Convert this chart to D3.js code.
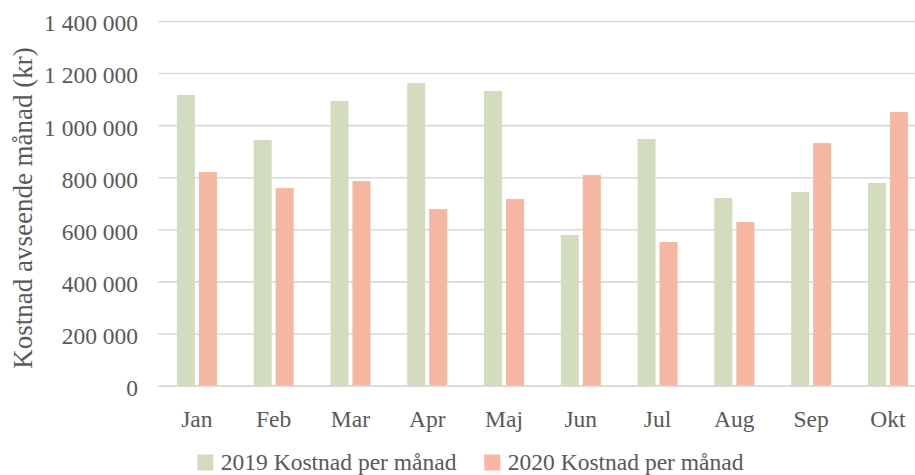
<!DOCTYPE html>
<html>
<head>
<meta charset="utf-8">
<script src="https://cdn.jsdelivr.net/npm/d3@7"></script>
<style>
  html, body { margin: 0; padding: 0; background: #fff; }
  svg { display: block; }
  text { font-family: "Liberation Serif", "Times New Roman", serif; fill: #595959; }
</style>
</head>
<body>
<svg id="chart" width="915" height="475"></svg>
<script>
const months = ["Jan", "Feb", "Mar", "Apr", "Maj", "Jun", "Jul", "Aug", "Sep", "Okt"];
const seriesNames = ["2019 Kostnad per månad", "2020 Kostnad per månad"];
const values2019 = [1118000, 945000, 1095000, 1164000, 1133000, 580000, 949000, 722000, 745000, 780000];
const values2020 = [822000, 760000, 787000, 680000, 718000, 810000, 553000, 630000, 933000, 1052000];
const yTicks = [0, 200000, 400000, 600000, 800000, 1000000, 1200000, 1400000];
const colors = ["#d3dcbe", "#f5b6a2"];
const yTitle = "Kostnad avseende månad (kr)";

const svg = d3.select("#chart");
const W = 915;
const plot = { left: 158.5, right: 926.3, top: 21.5, bottom: 386 };

const locale = d3.formatLocale({ decimal: ",", thousands: " ", grouping: [3], currency: ["", " kr"] });
const fmt = locale.format(",d");

const x0 = d3.scaleBand().domain(months).range([plot.left, plot.right])
  .paddingInner(0.479).paddingOuter(0.2395);
const x1 = d3.scaleBand().domain([0, 1]).range([0, x0.bandwidth()])
  .paddingInner(0.1818).paddingOuter(0);
const y = d3.scaleLinear().domain([0, 1400000]).range([plot.bottom, plot.top]);

// gridlines
svg.append("g").selectAll("line").data(yTicks).join("line")
  .attr("x1", plot.left).attr("x2", W)
  .attr("y1", d => y(d)).attr("y2", d => y(d))
  .attr("stroke", "#d9d9d9").attr("stroke-width", 1.6);

// y tick labels
svg.append("g").selectAll("text").data(yTicks).join("text")
  .attr("x", 138).attr("y", d => y(d)).attr("dy", "0.42em")
  .attr("text-anchor", "end").attr("font-size", "23.5px")
  .text(d => fmt(d));

// bars
const rows = months.map((m, i) => ({ m, v: [values2019[i], values2020[i]] }));
const g = svg.append("g").selectAll("g").data(rows).join("g")
  .attr("transform", d => `translate(${x0(d.m)},0)`);
g.selectAll("rect").data(d => d.v.map((v, k) => ({ v, k }))).join("rect")
  .attr("x", d => x1(d.k)).attr("width", x1.bandwidth())
  .attr("y", d => y(d.v)).attr("height", d => y(0) - y(d.v))
  .attr("fill", d => colors[d.k]);

// baseline redraw on top
svg.append("line").attr("x1", plot.left).attr("x2", W)
  .attr("y1", y(0)).attr("y2", y(0))
  .attr("stroke", "#d9d9d9").attr("stroke-width", 1.6);

// x labels
svg.append("g").selectAll("text").data(months).join("text")
  .attr("x", d => x0(d) + x0.bandwidth() / 2).attr("y", 426.5)
  .attr("text-anchor", "middle").attr("font-size", "23.5px")
  .text(d => d);

// y title
svg.append("text")
  .attr("transform", "translate(32,208) rotate(-90)")
  .attr("text-anchor", "middle").attr("font-size", "27px")
  .text(yTitle);

// legend
const legendX = [197.3, 484.3];
const lg = svg.append("g").selectAll("g").data(seriesNames).join("g")
  .attr("transform", (d, i) => `translate(${legendX[i]},454.5)`);
lg.append("rect").attr("width", 16).attr("height", 16).attr("fill", (d, i) => colors[i]);
lg.append("text").attr("x", 23.5).attr("y", 15.7).attr("font-size", "23.5px").text(d => d);
</script>
</body>
</html>
